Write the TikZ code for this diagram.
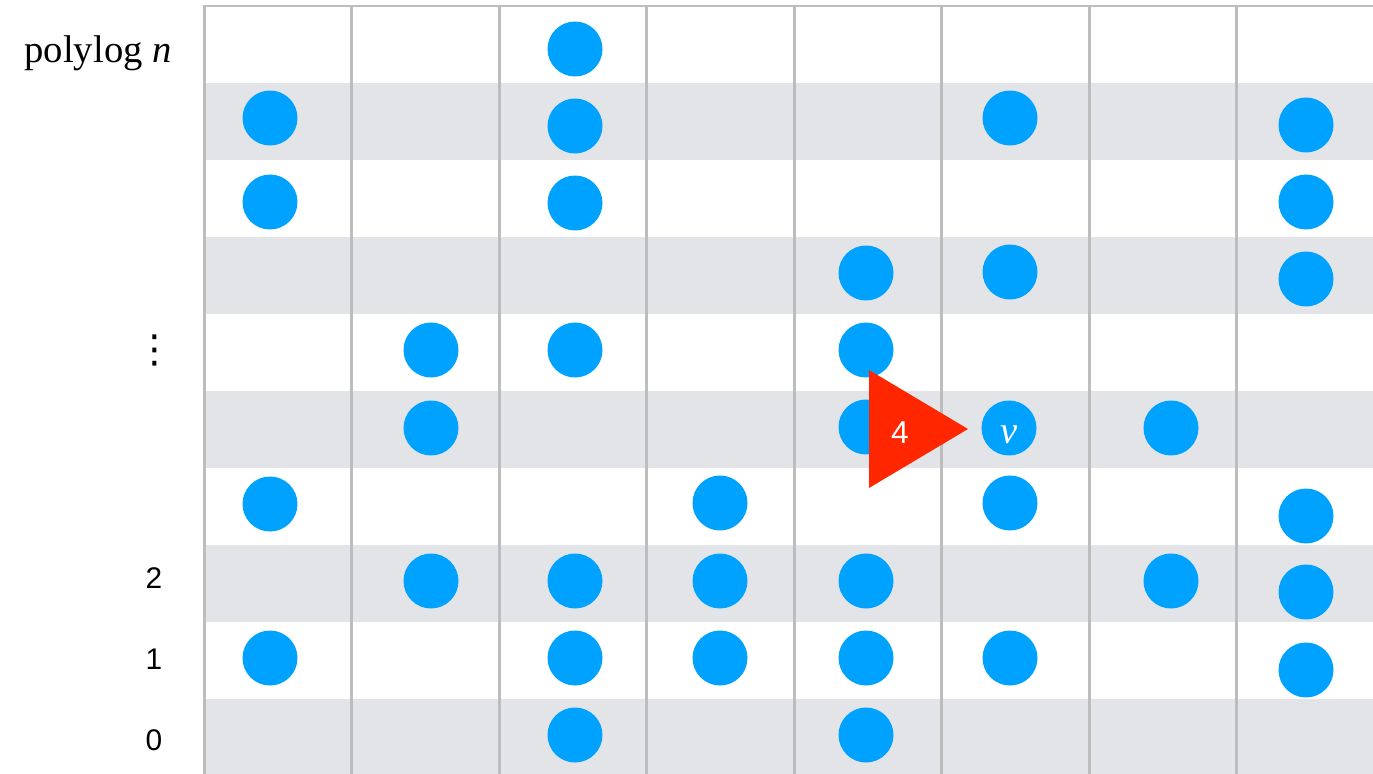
\documentclass[tikz,border=0pt]{standalone}
\usepackage{fontspec}
\setmainfont{Liberation Serif}
\newfontfamily\levelfont{Liberation Sans}
\newfontfamily\symbfont{DejaVu Sans}
\usepackage{tikz}
\definecolor{slotband}{HTML}{E3E4E8}
\definecolor{slotline}{HTML}{BDBDBD}
\definecolor{slotblue}{HTML}{00A2FF}
\definecolor{slotred}{HTML}{FF2600}
\begin{document}
\begin{tikzpicture}[
  x=0.02cm,y=-0.02cm,
  dot/.style={circle,fill=slotblue,minimum size=1.1cm,inner sep=0pt},
  gridline/.style={slotline,line width=0.06cm},
  lvl/.style={font=\levelfont\fontsize{17}{20}\selectfont,inner sep=0pt,anchor=base},
  toplab/.style={font=\fontsize{22}{26}\selectfont,inner sep=0pt,anchor=base east}]
\useasboundingbox (0,0) rectangle (1373,774);
\foreach \y in {83,237,391,545,699}
  \fill[slotband] (204,\y) rectangle (1373,\y+77);
\foreach \x in {204,351,499,646,794,941,1089,1236}
  \draw[gridline] (\x,6) -- (\x,774);
\draw[gridline] (202.5,6) -- (1373,6);
\foreach \x/\y [count=\i] in {575/49,
    270/118,575/126,1010/118,1306/125,
    270/202,575/203,1306/202,
    866/273,1010/272,1306/279,
    431/350,575/350,866/350,
    431/428,866/427,1171/428,
    270/504,720/503,1010/503,1306/516,
    431/581,575/581,720/581,866/581,1171/581,1306/592,
    270/658,575/658,720/658,866/658,1010/658,1306/670,
    575/735,866/735}
  \node[dot] (d\i) at (\x,\y) {};
\node[dot] (v) at (1009,428) {};
\node[toplab,anchor=base,text=white] (vname) at (1009,443) {\itshape v};
\coordinate (tip) at (968,429);
\fill[slotred] (869,370) -- (tip) -- (869,488) -- cycle;
\node[lvl,text=white,font=\levelfont\fontsize{18}{21}\selectfont] (four) at (900,443) {4};
\node[toplab] (polylog) at (172,62) {polylog {\itshape n}};
\node[inner sep=0pt,font=\symbfont\fontsize{22}{26}\selectfont] (dots) at (155,350) {⋮};
\node[lvl] (two) at (154,588) {2};
\node[lvl] (one) at (154,669) {1};
\node[lvl] (zero) at (154,750) {0};
\end{tikzpicture}
\end{document}
